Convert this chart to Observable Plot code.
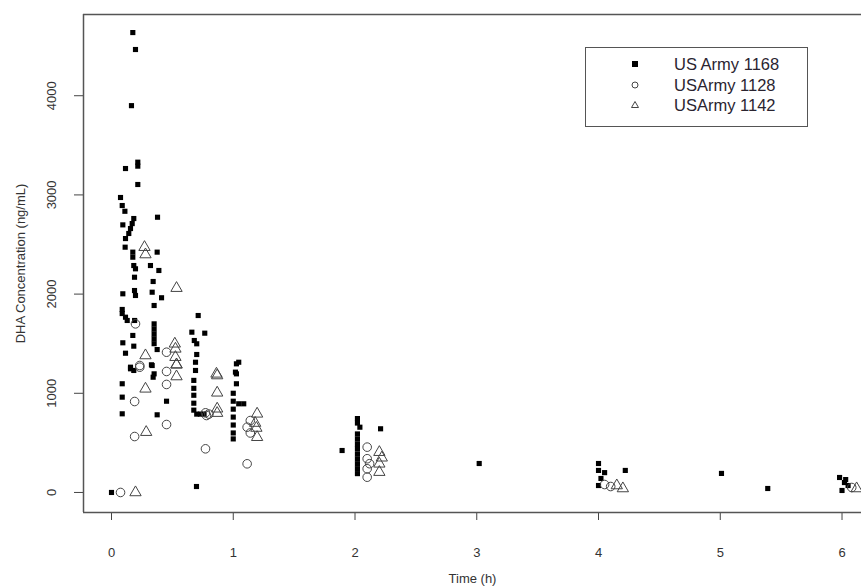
<!DOCTYPE html>
<html><head><meta charset="utf-8">
<script src="https://cdn.jsdelivr.net/npm/d3@7"></script>
<script src="https://cdn.jsdelivr.net/npm/@observablehq/plot@0.6"></script>
<style>
html,body{margin:0;padding:0;background:#fff;overflow:hidden;}
#wrap{position:relative;width:861px;height:586px;font-family:"Liberation Sans",Arial,sans-serif;}
#legend{position:absolute;left:585px;top:47px;width:221px;height:78px;border:1.5px solid #555;background:#fff;}
.row{position:absolute;left:0;height:20px;width:100%;}
.row svg{position:absolute;left:42px;top:3px;}
.row span{position:absolute;left:88px;top:0;font-size:16.5px;line-height:20px;color:#2a2430;}
</style></head>
<body><div id="wrap"><div id="chart"></div><div id="legend"></div></div>
<script>
// US Army 1168 (filled squares)
const time1168 = [0,0.175,0.197,0.164,0.115,0.216,0.216,0.216,0.074,0.088,0.110,0.378,0.183,0.170,0.156,0.093,0.142,0.115,0.112,0.175,0.375,0.175,0.183,0.197,0.189,0.320,0.389,0.342,0.093,0.189,0.197,0.334,0.411,0.350,0.088,0.088,0.115,0.129,0.190,0.350,0.350,0.350,0.350,0.350,0.712,0.660,0.766,0.680,0.700,0.175,0.093,0.183,0.115,0.375,0.700,0.156,0.183,0.328,0.350,0.690,0.690,1.045,1.018,0.156,0.334,0.342,0.088,0.088,0.088,0.452,0.375,0.676,0.676,0.676,0.676,0.676,0.700,0.730,0.760,0.698,1.026,1.026,1.026,1.000,1.000,1.000,1.000,1.000,1.000,1.000,1.045,1.086,2.02,2.02,2.04,2.02,2.02,2.02,2.02,2.02,2.02,2.02,2.02,2.02,2.21,1.894,3.02,4.00,4.00,4.02,4.00,4.05,4.22,5.01,5.39,5.98,6.02,6.00,6.05,6.03];
const conc1168 = [0,4637,4466,3900,3266,3290,3330,3105,2974,2893,2835,2775,2762,2711,2661,2698,2611,2560,2473,2423,2423,2372,2288,2255,2170,2288,2238,2127,2003,2036,1986,2019,1963,1885,1845,1804,1767,1734,1734,1700,1650,1600,1550,1500,1784,1616,1606,1532,1499,1583,1509,1475,1404,1441,1391,1247,1230,1287,1196,1313,1230,1313,1213,1263,1280,1162,1096,961,793,920,783,1130,1050,980,900,830,790,790,790,60,1297,1196,1096,1000,920,840,760,680,600,540,894,894,745,700,658,590,540,490,443,390,340,290,240,190,642,423,292,292,222,141,70,200,222,192,40,151,100,20,70,130];
// USArmy 1128 (open circles)
const time1128 = [0.074,0.197,0.232,0.232,0.452,0.452,0.452,0.452,0.190,0.190,0.772,0.780,0.800,0.772,1.114,1.140,1.140,1.114,2.10,2.10,2.10,2.10,2.12,4.05,4.10,6.08];
const conc1128 = [0,1700,1263,1280,1414,1220,1089,685,917,564,803,776,790,440,658,725,600,289,457,340,239,154,290,80,60,50];
// USArmy 1142 (open triangles)
const time1142 = [0.197,0.271,0.279,0.534,0.520,0.525,0.525,0.534,0.279,0.862,0.534,0.534,0.279,0.285,0.868,0.868,0.868,0.868,1.196,1.196,1.180,1.190,2.20,2.20,2.20,2.22,4.15,4.20,6.12];
const conc1142 = [0,2473,2399,2060,1499,1448,1364,1287,1381,1196,1290,1169,1045,608,1179,1005,844,800,793,557,700,650,406,289,205,350,70,40,40];

const seriesNames = ["US Army 1168", "USArmy 1128", "USArmy 1142"];
const xTicks = [0,1,2,3,4,5,6];
const yTicks = [0,1000,2000,3000,4000];
const xTitle = "Time (h)";
const yTitle = "DHA Concentration (ng/mL)";

const toRows = (ts, cs, g) => ts.map((t, i) => ({t, c: cs[i], g}));
const d1168 = toRows(time1168, conc1168, seriesNames[0]);
const d1128 = toRows(time1128, conc1128, seriesNames[1]);
const d1142 = toRows(time1142, conc1142, seriesNames[2]);

const xDomain = [-0.23, 6.16];
const yDomain = [-202, 4819];
const frameStyle = {stroke: "#555", strokeWidth: 1.5};
const font = '"Liberation Sans", Arial, sans-serif';
const txt = {fill: "#333", fontSize: 13, textAnchor: "middle", lineAnchor: "middle"};

const chart = Plot.plot({
  width: 861, height: 586,
  marginLeft: 83, marginRight: 0, marginTop: 14, marginBottom: 74,
  x: {domain: xDomain, ticks: xTicks, tickSize: 8, tickFormat: () => "", label: null},
  y: {domain: yDomain, ticks: yTicks, tickSize: 9, tickFormat: () => "", label: null},
  style: {color: "#444", background: "#fff", fontFamily: font, fontSize: "13px"},
  marks: [
    Plot.ruleY([yDomain[1]], frameStyle),
    Plot.ruleY([yDomain[0]], frameStyle),
    Plot.ruleX([xDomain[0]], frameStyle),
    Plot.dot(d1168, {x: "t", y: "c", symbol: "square", r: 2.9, fill: "#000"}),
    Plot.dot(d1128, {x: "t", y: "c", symbol: "circle", r: 4.3, stroke: "#444", fill: "none", strokeWidth: 1}),
    Plot.dot(d1142, {x: "t", y: "c", symbol: "triangle", r: 4.2, stroke: "#444", fill: "none", strokeWidth: 1}),
    Plot.text(xTicks, {x: d => d, frameAnchor: "bottom", dy: 40, text: d => String(d), ...txt}),
    Plot.text(yTicks, {y: d => d, frameAnchor: "left", dx: -32, rotate: -90, text: d => String(d), ...txt}),
    Plot.text([xTitle], {frameAnchor: "bottom", dy: 66, text: d => d, ...txt}),
    Plot.text([yTitle], {frameAnchor: "left", dx: -63, rotate: -90, text: d => d, ...txt})
  ]
});
document.getElementById("chart").appendChild(chart);

// legend
const legend = document.getElementById("legend");
const syms = [
  '<svg width="14" height="14"><rect x="4" y="4" width="6" height="6" fill="#000"/></svg>',
  '<svg width="14" height="14"><circle cx="7" cy="7" r="3" fill="none" stroke="#444" stroke-width="1"/></svg>',
  '<svg width="14" height="14"><path d="M7,3.5L10.5,9.5L3.5,9.5Z" fill="none" stroke="#444" stroke-width="1"/></svg>'
];
seriesNames.forEach((name, i) => {
  const row = document.createElement("div");
  row.className = "row";
  row.style.top = (6 + i * 20.5) + "px";
  row.innerHTML = syms[i] + "<span></span>";
  row.querySelector("span").textContent = name;
  legend.appendChild(row);
});
</script>
</body></html>
